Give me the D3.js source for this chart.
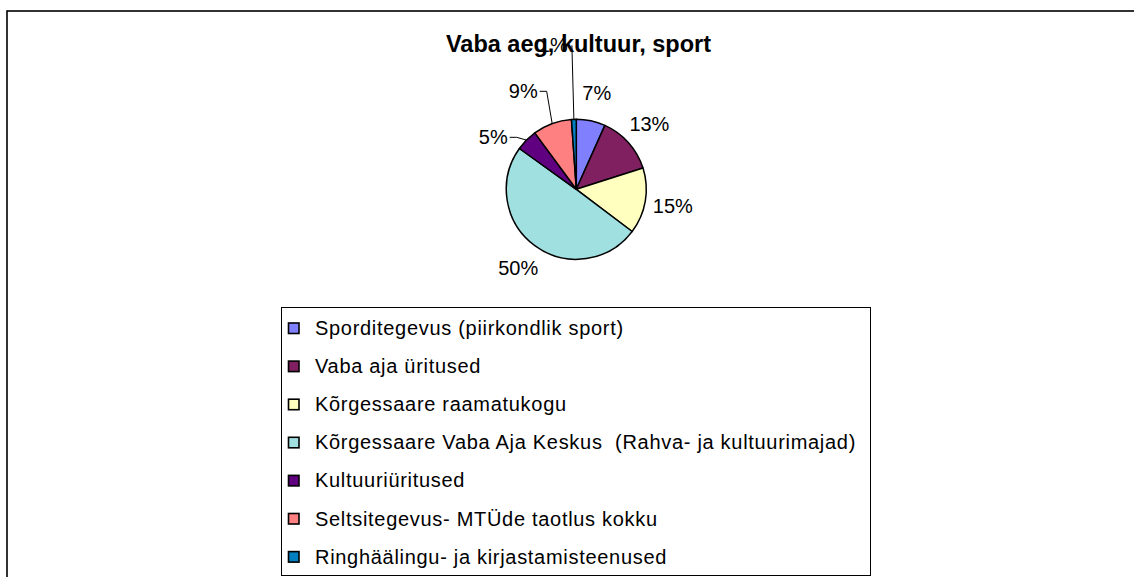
<!DOCTYPE html>
<html>
<head>
<meta charset="utf-8">
<script src="https://cdn.jsdelivr.net/npm/d3@7"></script>
<style>
  body { margin: 0; background: #fff; }
  text { font-family: "Liberation Sans", Arial, sans-serif; }
</style>
</head>
<body>
<div id="chart"></div>
<script>
  var width = 1134,
      height = 577;

  // data (labels are the rounded shares)
  var title = "Vaba aeg, kultuur, sport";
  var categories = [
    "Sporditegevus (piirkondlik sport)",
    "Vaba aja üritused",
    "Kõrgessaare raamatukogu",
    "Kõrgessaare Vaba Aja Keskus  (Rahva- ja kultuurimajad)",
    "Kultuuriüritused",
    "Seltsitegevus- MTÜde taotlus kokku",
    "Ringhäälingu- ja kirjastamisteenused"
  ];
  var values = [6.7, 13.4, 15.2, 49.6, 5.0, 9.0, 1.1];
  var sliceColors = ["#8080ff", "#802060", "#ffffc0", "#a0e0e0", "#600080", "#ff8080", "#0080c0"];

  var cx = 576.3, cy = 189.3, r = 70;

  var svg = d3.select("#chart").append("svg")
    .attr("width", width)
    .attr("height", height);

  // chart area frame (runs off the right and bottom edges)
  svg.append("rect")
    .attr("x", 7).attr("y", 11)
    .attr("width", width + 20).attr("height", height + 20)
    .style("fill", "#fff")
    .style("stroke", "#000")
    .style("stroke-width", 1.6);

  var data = categories.map(function(c, i) {
    return {name: c, value: values[i], color: sliceColors[i]};
  });
  var total = d3.sum(values);
  var fmt = d3.format(".0%");

  var pie = d3.pie().sort(null).value(function(d) { return d.value; });
  var arcs = pie(data);
  var arc = d3.arc().innerRadius(0).outerRadius(r);

  var g = svg.append("g").attr("transform", "translate(" + cx + "," + cy + ")");

  g.selectAll("path.slice")
    .data(arcs)
    .enter()
    .append("path")
    .attr("class", "slice")
    .attr("d", arc)
    .style("fill", function(d) { return d.data.color; })
    .style("stroke", "#000")
    .style("stroke-width", 1.5)
    .style("stroke-linejoin", "round");

  // labels sit on a ring outside the pie; small slices on the left side get
  // leader lines and are stacked up diagonally, like the spreadsheet did
  var labelR = r + 28, lh = 16;
  var stackX = 30, stackY = -46;
  var lastLeader = null;

  var labels = g.selectAll("text.lbl")
    .data(arcs)
    .enter()
    .append("text")
    .attr("class", "lbl")
    .style("font-size", "20px")
    .style("fill", "#000")
    .attr("text-anchor", "middle")
    .attr("dy", "0.35em")
    .text(function(d) { return fmt(d.data.value / total); });

  labels.each(function(d) {
    var w = this.getComputedTextLength();
    var mid = (d.startAngle + d.endAngle) / 2;
    d.leader = (d.data.value / total) < 0.1 && mid > Math.PI;
    var x, y;
    if (d.leader && lastLeader) {
      x = lastLeader.lx + stackX;
      y = lastLeader.ly + stackY;
    } else {
      var a = d.leader ? mid - 0.22 : mid;
      x = Math.sin(a) * labelR;
      y = -Math.cos(a) * labelR;
    }
    d.lx = x; d.ly = y; d.lw = w; d.mid = mid;
    if (d.leader) lastLeader = d;
    d3.select(this).attr("x", x).attr("y", y);
  });

  g.selectAll("polyline.leader")
    .data(arcs.filter(function(d) { return d.leader; }))
    .enter()
    .insert("polyline", "text.lbl")
    .attr("class", "leader")
    .attr("points", function(d) {
      var px = Math.sin(d.mid) * r, py = -Math.cos(d.mid) * r;
      var pts;
      if (Math.abs(d.lx - px) < d.lw) {
        pts = [[px - 2, d.ly], [px, py]];
      } else {
        var sx = d.lx + d.lw / 2 + 2;
        pts = [[sx, d.ly], [sx + 7, d.ly], [px, py]];
      }
      return pts.map(function(p) { return p.join(","); }).join(" ");
    })
    .style("fill", "none")
    .style("stroke", "#000")
    .style("stroke-width", 1);

  // title on top of the labels
  svg.append("text")
    .attr("x", 578.5)
    .attr("y", 52)
    .attr("text-anchor", "middle")
    .style("font-size", "23.5px")
    .style("font-weight", "bold")
    .text(title);

  // legend
  var legX = 281, legY = 307, legW = 589, legH = 268, rowH = 38.1;
  var leg = svg.append("g");
  leg.append("rect")
    .attr("x", legX + 0.5).attr("y", legY + 0.5)
    .attr("width", legW).attr("height", legH)
    .style("fill", "#fff")
    .style("stroke", "#000")
    .style("stroke-width", 1);

  var rows = leg.selectAll("g.row")
    .data(data)
    .enter()
    .append("g")
    .attr("class", "row")
    .attr("transform", function(d, i) {
      return "translate(" + legX + "," + (legY + 21 + i * rowH) + ")";
    });

  rows.append("rect")
    .attr("x", 7.5).attr("y", -5)
    .attr("width", 10.5).attr("height", 10.5)
    .style("fill", function(d) { return d.color; })
    .style("stroke", "#000")
    .style("stroke-width", 1.6);

  rows.append("text")
    .attr("x", 34)
    .attr("y", 7)
    .style("font-size", "20px")
    .style("letter-spacing", "0.7px")
    .style("white-space", "pre")
    .text(function(d) { return d.name; });
</script>
</body>
</html>
